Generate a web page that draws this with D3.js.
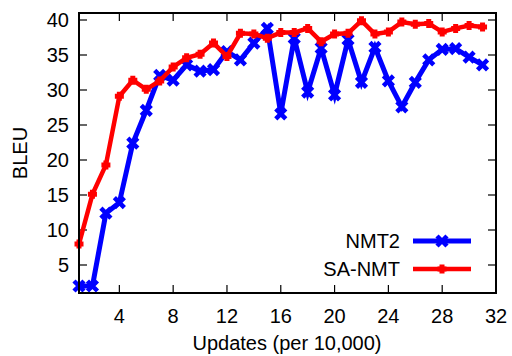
<!DOCTYPE html>
<html>
<head>
<meta charset="utf-8">
<script src="https://cdn.jsdelivr.net/npm/d3@7"></script>
<style>
  body { margin: 0; background: #fff; }
  svg text { font-family: "Liberation Sans", Arial, sans-serif; fill: #000; }
</style>
</head>
<body>
<script>
// data
var updates = d3.range(1, 32); // 1..31 (per 10,000)
var nmt2 = [2.0, 2.0, 12.4, 13.9, 22.4, 27.1, 32.1, 31.4, 33.6, 32.7,
  32.9, 35.5, 34.3, 36.7, 38.8, 26.6, 37.4, 29.7, 36.0, 29.3,
  37.2, 31.1, 36.1, 31.3, 27.6, 31.1, 34.3, 35.8, 35.9, 34.7, 33.6];
var saNmt = [8.0, 15.1, 19.3, 29.1, 31.4, 30.1, 31.3, 33.3, 34.6, 35.1,
  36.7, 34.8, 38.1, 38.0, 37.4, 38.2, 38.2, 38.8, 36.9, 38.0,
  38.1, 39.9, 38.0, 38.3, 39.7, 39.4, 39.5, 38.3, 38.8, 39.2, 39.0];
var xTicks = [4, 8, 12, 16, 20, 24, 28, 32];
var yTicks = [5, 10, 15, 20, 25, 30, 35, 40];

var width = 512, height = 356;
var plotLeft = 79, plotTop = 13, plotRight = 496, plotBottom = 293;
var fontSize = 20;

var svg = d3.select('body').append('svg')
  .attr('width', width)
  .attr('height', height);

var x = d3.scaleLinear().domain([1, 32]).range([plotLeft, plotRight]);
var y = d3.scaleLinear().domain([1, 41]).range([plotBottom, plotTop]);

// ticks (inward on all four sides)
var tickLen = 8;
var g = svg.append('g').attr('stroke', '#000').attr('stroke-width', 1.2);
xTicks.forEach(function(t) {
  g.append('line').attr('x1', x(t)).attr('x2', x(t)).attr('y1', plotBottom).attr('y2', plotBottom - tickLen);
  g.append('line').attr('x1', x(t)).attr('x2', x(t)).attr('y1', plotTop).attr('y2', plotTop + tickLen);
});
yTicks.forEach(function(t) {
  g.append('line').attr('x1', plotLeft).attr('x2', plotLeft + tickLen).attr('y1', y(t)).attr('y2', y(t));
  g.append('line').attr('x1', plotRight).attr('x2', plotRight - tickLen).attr('y1', y(t)).attr('y2', y(t));
});

// tick labels
svg.selectAll('.xl').data(xTicks).enter().append('text')
  .attr('x', function(d) { return x(d); })
  .attr('y', plotBottom + 30)
  .attr('text-anchor', 'middle')
  .attr('font-size', fontSize)
  .text(function(d) { return d; });

svg.selectAll('.yl').data(yTicks).enter().append('text')
  .attr('x', plotLeft - 10)
  .attr('y', function(d) { return y(d) + 7; })
  .attr('text-anchor', 'end')
  .attr('font-size', fontSize)
  .text(function(d) { return d; });

// axis titles
svg.append('text')
  .attr('x', 287).attr('y', 350)
  .attr('text-anchor', 'middle')
  .attr('font-size', fontSize)
  .text('Updates (per 10,000)');

svg.append('text')
  .attr('transform', 'translate(27,153) rotate(-90)')
  .attr('text-anchor', 'middle')
  .attr('font-size', fontSize)
  .text('BLEU');

// marker helpers
var crossPath = function(cx, cy, s) {
  return 'M' + (cx - s) + ',' + (cy - s) + 'L' + (cx + s) + ',' + (cy + s) +
    'M' + (cx - s) + ',' + (cy + s) + 'L' + (cx + s) + ',' + (cy - s);
};
var plusPath = function(cx, cy, s) {
  return 'M' + (cx - s) + ',' + cy + 'L' + (cx + s) + ',' + cy +
    'M' + cx + ',' + (cy - s) + 'L' + cx + ',' + (cy + s);
};

var line = d3.line()
  .x(function(d) { return x(d[0]); })
  .y(function(d) { return y(d[1]); });

var plot = svg.append('g');

var drawSeries = function(vals, color, lw, marker, ms, mw) {
  var pts = updates.map(function(u, i) { return [u, vals[i]]; });
  plot.append('path')
    .attr('d', line(pts))
    .attr('fill', 'none')
    .attr('stroke', color)
    .attr('stroke-width', lw)
    .attr('stroke-linejoin', 'miter');
  plot.selectAll(null).data(pts).enter().append('path')
    .attr('d', function(d) { return marker(x(d[0]), y(d[1]), ms); })
    .attr('stroke', color)
    .attr('stroke-width', mw)
    .attr('fill', 'none');
};

drawSeries(nmt2, '#0000ff', 5, crossPath, 5, 4.5);
drawSeries(saNmt, '#ff0000', 4.5, plusPath, 4.5, 5);

// legend
var legend = [
  { name: 'NMT2', color: '#0000ff', lw: 5, marker: crossPath, ms: 5, mw: 4.5, y: 241 },
  { name: 'SA-NMT', color: '#ff0000', lw: 4.5, marker: plusPath, ms: 4.5, mw: 5, y: 269 }
];
legend.forEach(function(l) {
  svg.append('text')
    .attr('x', 400).attr('y', l.y + 7)
    .attr('text-anchor', 'end')
    .attr('font-size', fontSize)
    .text(l.name);
  svg.append('line')
    .attr('x1', 413).attr('x2', 471).attr('y1', l.y).attr('y2', l.y)
    .attr('stroke', l.color).attr('stroke-width', l.lw);
  svg.append('path')
    .attr('d', l.marker(442, l.y, l.ms))
    .attr('stroke', l.color).attr('stroke-width', l.mw).attr('fill', 'none');
});

// frame
svg.append('rect')
  .attr('x', plotLeft).attr('y', plotTop)
  .attr('width', plotRight - plotLeft).attr('height', plotBottom - plotTop)
  .attr('fill', 'none')
  .attr('stroke', '#000')
  .attr('stroke-width', 2);
</script>
</body>
</html>
